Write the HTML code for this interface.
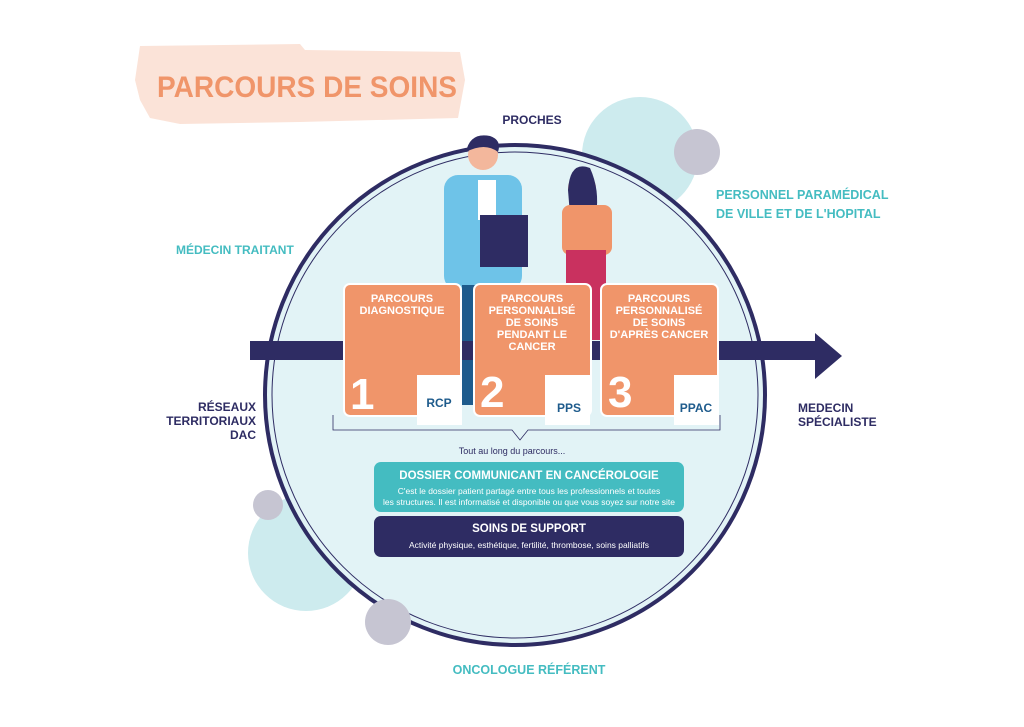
<!DOCTYPE html>
<html><head><meta charset="utf-8"><style>
body{margin:0;background:#fff;width:1024px;height:722px;overflow:hidden}
svg text{font-family:"Liberation Sans",sans-serif;font-weight:bold}
</style></head><body>
<svg width="1024" height="722" viewBox="0 0 1024 722" xmlns="http://www.w3.org/2000/svg">
<path d="M140 46 L300 44 L305 50 L460 52 L465 80 L458 118 L300 122 L180 124 L150 118 L140 100 L135 80 Z" fill="#fbe3d8"/>
<text x="157" y="97" font-size="30" fill="#f0956a" textLength="300" lengthAdjust="spacingAndGlyphs">PARCOURS DE SOINS</text>
<circle cx="640" cy="155" r="58" fill="#cdebee"/>
<circle cx="697" cy="152" r="23" fill="#c6c5d2"/>
<circle cx="306" cy="553" r="58" fill="#cdebee"/>
<circle cx="268" cy="505" r="15" fill="#c6c5d2"/>
<circle cx="515" cy="395" r="250" fill="#e2f3f6" stroke="#2e2c63" stroke-width="4"/>
<circle cx="515" cy="395" r="243" fill="none" stroke="#2e2c63" stroke-width="1"/>
<circle cx="388" cy="622" r="23" fill="#c6c5d2"/>
<!-- people -->
<rect x="444" y="175" width="78" height="115" rx="14" fill="#6ec3e8"/>
<rect x="478" y="180" width="18" height="40" fill="#fff"/>
<circle cx="483" cy="155" r="15" fill="#f3b79c"/>
<path d="M466 152 Q470 132 490 136 Q502 140 498 152 Q485 142 466 152Z" fill="#2e2c63"/>
<rect x="480" y="215" width="48" height="52" fill="#2e2c63"/>
<rect x="462" y="285" width="20" height="120" fill="#1e5b8c"/>
<circle cx="582" cy="188" r="14" fill="#f3b79c"/>
<path d="M568 190 Q570 160 590 168 Q600 190 596 215 L570 215Z" fill="#2e2c63"/>
<rect x="562" y="205" width="50" height="50" rx="8" fill="#f0956a"/>
<rect x="566" y="250" width="40" height="90" fill="#c9315f"/>
<!-- arrow -->
<rect x="250" y="341" width="572" height="19" fill="#2e2c63"/>
<polygon points="815,333 842,356 815,379" fill="#2e2c63"/>
<!-- boxes -->
<g>
<rect x="344" y="284" width="117" height="132" rx="6" fill="#f0956a" stroke="#fff" stroke-width="2"/>
<rect x="417" y="375" width="45" height="50" fill="#fff"/>
<text x="402" y="302" font-size="11" fill="#fff" text-anchor="middle">PARCOURS</text>
<text x="402" y="314" font-size="11" fill="#fff" text-anchor="middle">DIAGNOSTIQUE</text>
<text x="350" y="409" font-size="44" fill="#fff">1</text>
<text x="439" y="407" font-size="12" fill="#1e5b8c" text-anchor="middle">RCP</text>
</g>
<g>
<rect x="474" y="284" width="117" height="132" rx="6" fill="#f0956a" stroke="#fff" stroke-width="2"/>
<rect x="545" y="375" width="45" height="50" fill="#fff"/>
<text x="532" y="302" font-size="11" fill="#fff" text-anchor="middle">PARCOURS</text>
<text x="532" y="314" font-size="11" fill="#fff" text-anchor="middle">PERSONNALISÉ</text>
<text x="532" y="326" font-size="11" fill="#fff" text-anchor="middle">DE SOINS</text>
<text x="532" y="338" font-size="11" fill="#fff" text-anchor="middle">PENDANT LE</text>
<text x="532" y="350" font-size="11" fill="#fff" text-anchor="middle">CANCER</text>
<text x="480" y="407" font-size="44" fill="#fff">2</text>
<text x="569" y="412" font-size="12" fill="#1e5b8c" text-anchor="middle">PPS</text>
</g>
<g>
<rect x="601" y="284" width="117" height="132" rx="6" fill="#f0956a" stroke="#fff" stroke-width="2"/>
<rect x="674" y="375" width="45" height="50" fill="#fff"/>
<text x="659" y="302" font-size="11" fill="#fff" text-anchor="middle">PARCOURS</text>
<text x="659" y="314" font-size="11" fill="#fff" text-anchor="middle">PERSONNALISÉ</text>
<text x="659" y="326" font-size="11" fill="#fff" text-anchor="middle">DE SOINS</text>
<text x="659" y="338" font-size="11" fill="#fff" text-anchor="middle">D'APRÈS CANCER</text>
<text x="608" y="407" font-size="44" fill="#fff">3</text>
<text x="696" y="412" font-size="12" fill="#1e5b8c" text-anchor="middle">PPAC</text>
</g>
<path d="M333 415 L333 430 L512 430 L520 440 L528 430 L720 430 L720 415" fill="none" stroke="#2e2c63" stroke-width="0.8"/>
<text x="512" y="454" font-size="9" fill="#2e2c63" text-anchor="middle" style="font-weight:normal">Tout au long du parcours...</text>
<rect x="374" y="462" width="310" height="50" rx="7" fill="#44bcc1"/>
<text x="529" y="479" font-size="11.5" fill="#fff" text-anchor="middle">DOSSIER COMMUNICANT EN CANCÉROLOGIE</text>
<text x="529" y="494" font-size="8.5" fill="#fff" text-anchor="middle" style="font-weight:normal">C'est le dossier patient partagé entre tous les professionnels et toutes</text>
<text x="529" y="505" font-size="8.5" fill="#fff" text-anchor="middle" style="font-weight:normal">les structures. Il est informatisé et disponible ou que vous soyez sur notre site</text>
<rect x="374" y="516" width="310" height="41" rx="7" fill="#2e2c63"/>
<text x="529" y="532" font-size="11.5" fill="#fff" text-anchor="middle">SOINS DE SUPPORT</text>
<text x="529" y="548" font-size="8.5" fill="#fff" text-anchor="middle" style="font-weight:normal">Activité physique, esthétique, fertilité, thrombose, soins palliatifs</text>
<!-- labels -->
<text x="532" y="124" font-size="12" fill="#2e2c63" text-anchor="middle">PROCHES</text>
<text x="716" y="199" font-size="12.5" fill="#44bcc1">PERSONNEL PARAMÉDICAL</text>
<text x="716" y="218" font-size="12.5" fill="#44bcc1">DE VILLE ET DE L'HOPITAL</text>
<text x="176" y="254" font-size="12" fill="#44bcc1">MÉDECIN TRAITANT</text>
<text x="256" y="411" font-size="12" fill="#2e2c63" text-anchor="end">RÉSEAUX</text>
<text x="256" y="425" font-size="12" fill="#2e2c63" text-anchor="end">TERRITORIAUX</text>
<text x="256" y="439" font-size="12" fill="#2e2c63" text-anchor="end">DAC</text>
<text x="798" y="412" font-size="12" fill="#2e2c63">MEDECIN</text>
<text x="798" y="426" font-size="12" fill="#2e2c63">SPÉCIALISTE</text>
<text x="529" y="674" font-size="12.5" fill="#44bcc1" text-anchor="middle">ONCOLOGUE RÉFÉRENT</text>
</svg>
</body></html>
